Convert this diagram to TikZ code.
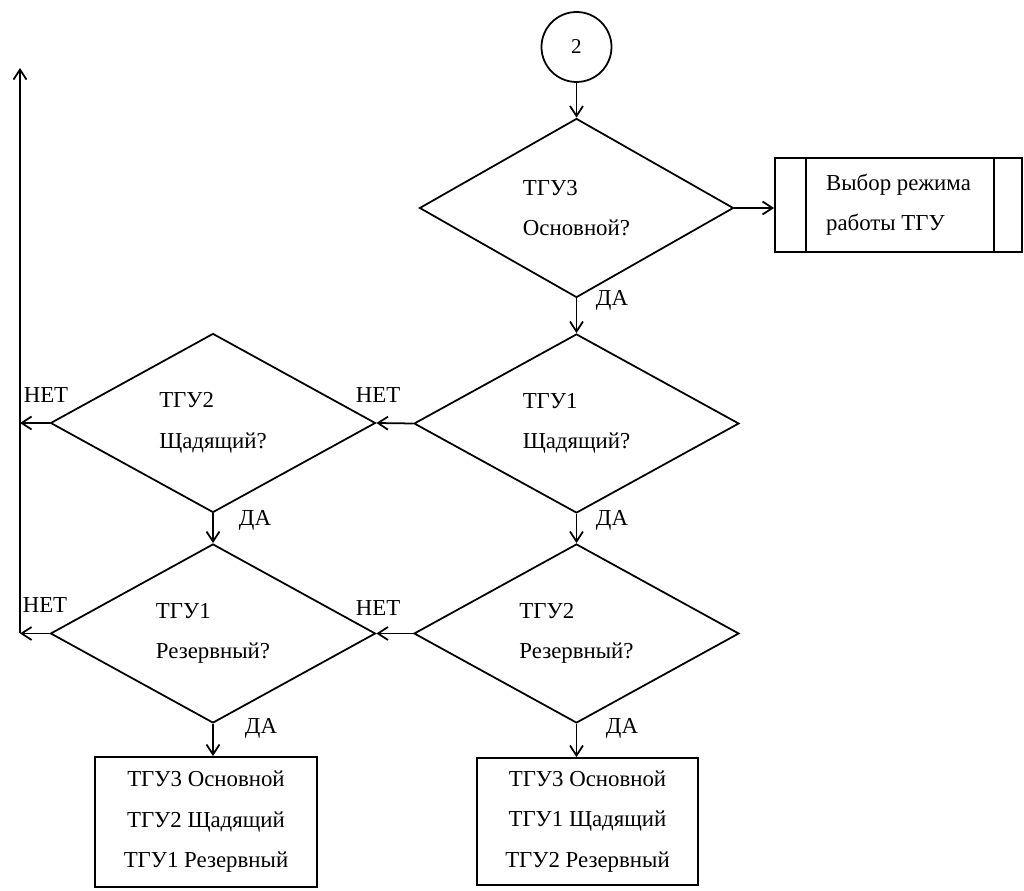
\documentclass[tikz,border=0pt]{standalone}
\usepackage{fontspec}
\setmainfont{Liberation Serif}
\newfontfamily\tnrfont{Liberation Serif}
\usetikzlibrary{arrows.meta,shapes.geometric,calc}
\tikzset{
  >={Straight Barb[length=2mm,width=2.6mm]},
  every node/.append style = {font=\tnrfont\fontsize{13}{23}\selectfont},
  % --- flowchart blocks ---------------------------------------------------
  conn/.style   = {draw, circle, line width=1pt, minimum size=1.4cm,
                   inner sep=0pt},
  dec/.style    = {draw, diamond, aspect=2, line width=1pt, inner sep=0pt,
                   minimum width=6.5cm, minimum height=3.58cm, align=left},
  proc/.style   = {draw, rectangle, line width=1pt, inner sep=0pt,
                   align=center},
  % --- relations ------------------------------------------------------------
  flow/.style   = {draw, line width=1pt, ->},
  lbl/.style    = {inner sep=1pt},
}

\begin{document}
\begin{tikzpicture}
\useasboundingbox[fill=white] (0,0) rectangle (20.48,-17.82);

% ============================ right column =================================
\node[conn] (c2) at (11.53,-0.94) {\fontsize{12}{14}\selectfont 2};
\node[dec, minimum width=6.28cm] (q1) at (11.53,-4.16) {ТГУ3\\Основной?};
\node[proc, minimum width=4.94cm, minimum height=1.88cm, align=left]
     (sel) at (17.97,-4.1) {Выбор режима\\работы ТГУ};
\draw[line width=1pt] ([xshift=0.64cm]sel.north west) -- ([xshift=0.64cm]sel.south west);
\draw[line width=1pt] ([xshift=-0.58cm]sel.north east) -- ([xshift=-0.58cm]sel.south east);

\node[dec] (q2) at (11.53,-8.47) {ТГУ1\\Щадящий?};
\node[dec] (q5) at (11.53,-12.67) {ТГУ2\\Резервный?};
\node[proc, minimum width=4.42cm, minimum height=2.54cm]
     (res2) at (11.75,-16.43) {ТГУ3 Основной\\ТГУ1 Щадящий\\ТГУ2 Резервный};

% ============================ left column ==================================
\node[dec] (q3) at (4.26,-8.46) {ТГУ2\\Щадящий?};
\node[dec] (q4) at (4.26,-12.67) {ТГУ1\\Резервный?};
\node[proc, minimum width=4.44cm, minimum height=2.6cm]
     (res1) at (4.12,-16.44) {ТГУ3 Основной\\ТГУ2 Щадящий\\ТГУ1 Резервный};

% return line on the far left
\coordinate (ret) at (0.4,-1.36);

% ============================== connectors =================================
\draw[flow] (c2.south) -- (q1.north);
\draw[flow] (q1.east) -- (q1.east -| sel.west);
\draw[flow] (q1.south) -- (q2.north);
\draw[flow] (q2.west) -- (q3.east);
\draw[flow] (q2.south) -- (q5.north);
\draw[flow] (q5.west) -- (q4.east);
\draw[flow] (q3.south) -- (q4.north);
\draw[flow] (q4.south) -- (q4.south |- res1.north);
\draw[flow] (q5.south) -- (q5.south |- res2.north);

\draw[flow] (q3.west) -- (q3.west -| ret);
\draw[flow] (q4.west) -- (q4.west -| ret);
\draw[flow] (q4.west -| ret) -- (ret);

% ================================ labels ===================================
\node[lbl] (da1) at (12.24,-6.0)   {ДА};
\node[lbl] (da2) at (12.24,-10.4)  {ДА};
\node[lbl] (da3) at (5.1,-10.4)    {ДА};
\node[lbl] (da4) at (5.22,-14.56)  {ДА};
\node[lbl] (da5) at (12.44,-14.56) {ДА};

\node[lbl] (net1) at (0.92,-7.9)  {НЕТ};
\node[lbl] (net2) at (7.56,-7.9)  {НЕТ};
\node[lbl] (net3) at (0.9,-12.1)  {НЕТ};
\node[lbl] (net4) at (7.56,-12.16) {НЕТ};

\end{tikzpicture}
\end{document}
